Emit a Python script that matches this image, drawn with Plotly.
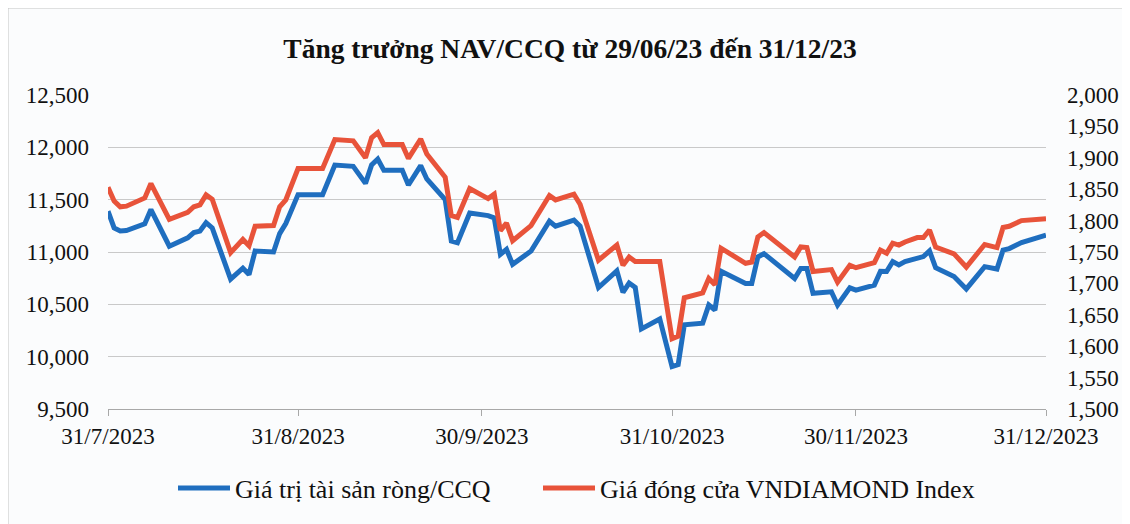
import plotly.graph_objects as go

# ---- data ----
dates = [
    "2023-07-31", "2023-08-01", "2023-08-02", "2023-08-03", "2023-08-06", "2023-08-07",
    "2023-08-10", "2023-08-13", "2023-08-14", "2023-08-15", "2023-08-16", "2023-08-17",
    "2023-08-20", "2023-08-22", "2023-08-23", "2023-08-24", "2023-08-27", "2023-08-28",
    "2023-08-29", "2023-08-31", "2023-09-04", "2023-09-06", "2023-09-09", "2023-09-11",
    "2023-09-12", "2023-09-13", "2023-09-14", "2023-09-17", "2023-09-18", "2023-09-20",
    "2023-09-21", "2023-09-24", "2023-09-25", "2023-09-26", "2023-09-28", "2023-10-01",
    "2023-10-02", "2023-10-03", "2023-10-04", "2023-10-05", "2023-10-08", "2023-10-11",
    "2023-10-12", "2023-10-15", "2023-10-16", "2023-10-19", "2023-10-22", "2023-10-23",
    "2023-10-24", "2023-10-25", "2023-10-26", "2023-10-29", "2023-10-31", "2023-11-01",
    "2023-11-02", "2023-11-05", "2023-11-06", "2023-11-07", "2023-11-08", "2023-11-12",
    "2023-11-13", "2023-11-14", "2023-11-15", "2023-11-20", "2023-11-21", "2023-11-22",
    "2023-11-23", "2023-11-26", "2023-11-27", "2023-11-29", "2023-11-30", "2023-12-03",
    "2023-12-04", "2023-12-05", "2023-12-06", "2023-12-07", "2023-12-08", "2023-12-10",
    "2023-12-11", "2023-12-12", "2023-12-13", "2023-12-16", "2023-12-18", "2023-12-21",
    "2023-12-23", "2023-12-24", "2023-12-25", "2023-12-27", "2023-12-31",
]

nav_per_unit = [
    11390, 11230, 11200, 11205, 11270, 11405,
    11055, 11135, 11185, 11200, 11280, 11230,
    10740, 10845, 10785, 11010, 11000, 11176,
    11272, 11548, 11548, 11830, 11818, 11656,
    11832, 11888, 11780, 11780, 11640, 11825,
    11698, 11500, 11104, 11088, 11373, 11348,
    11326, 10977, 11025, 10882, 11009, 11294,
    11247, 11304, 11247, 10661, 10820, 10614,
    10703, 10661, 10265, 10360, 9905, 9925,
    10304, 10320, 10494, 10446, 10815, 10700,
    10700, 10952, 10984, 10747, 10842, 10842,
    10605, 10620, 10494, 10658, 10636, 10684,
    10815, 10813, 10908, 10876, 10908, 10946,
    10956, 11010, 10850, 10765, 10647, 10860,
    10837, 11018, 11033, 11090, 11160,
]

vndiamond = [
    1853, 1831, 1822, 1823, 1836, 1859,
    1802, 1813, 1822, 1825, 1841, 1834,
    1749, 1770, 1760, 1791, 1792, 1822,
    1833, 1883, 1883, 1929, 1927, 1900,
    1932, 1940, 1921, 1921, 1899, 1930,
    1906, 1869, 1808, 1805, 1851, 1835,
    1842, 1784, 1796, 1768, 1792, 1840,
    1833, 1842, 1826, 1737, 1761, 1729,
    1742, 1735, 1735, 1735, 1612, 1616,
    1677, 1685, 1708, 1698, 1756, 1732,
    1734, 1774, 1781, 1742, 1758, 1757,
    1719, 1722, 1702, 1729, 1725, 1733,
    1753, 1748, 1764, 1761, 1766, 1773,
    1773, 1785, 1758, 1747, 1726, 1762,
    1757, 1789, 1791, 1800, 1803,
]

x_tick_dates = ["2023-07-31", "2023-08-31", "2023-09-30", "2023-10-31", "2023-11-30", "2023-12-31"]
x_tick_labels = ["31/7/2023", "31/8/2023", "30/9/2023", "31/10/2023", "30/11/2023", "31/12/2023"]

series_names = ["Giá trị tài sản ròng/CCQ", "Giá đóng cửa VNDIAMOND Index"]
title_text = "Tăng trưởng NAV/CCQ từ 29/06/23 đến 31/12/23"

BLUE = "#1F6EBF"
RED = "#E8533A"
FONT = "Liberation Serif"
BG = "#FBFCFD"

# the page body adds an 8px offset; figure margins compensate for it
W, H = 1130, 524
L, R, T, B = 100, 92, 87, 123
PW, PH = W - L - R, H - T - B

fig = go.Figure()
fig.add_trace(go.Scatter(
    x=dates, y=nav_per_unit, name=series_names[0], mode="lines",
    line=dict(color=BLUE, width=5), yaxis="y", legend="legend",
))
fig.add_trace(go.Scatter(
    x=dates, y=vndiamond, name=series_names[1], mode="lines",
    line=dict(color=RED, width=5), yaxis="y2", legend="legend2",
))

legend_common = dict(
    orientation="h",
    xanchor="left",
    y=1 - 480 / H, yref="container", yanchor="middle",
    xref="container",
    font=dict(family=FONT, size=26, color="#111111"),
    bgcolor="rgba(0,0,0,0)",
    itemwidth=52,
)

fig.update_layout(
    width=W, height=H,
    margin=dict(l=L, r=R, t=T, b=B),
    paper_bgcolor=BG,
    plot_bgcolor=BG,
    font=dict(family=FONT, size=23, color="#111111"),
    title=dict(
        text="<b>" + title_text + "</b>",
        x=562 / W, xref="container", xanchor="center",
        y=1 - 40 / H, yref="container", yanchor="middle",
        font=dict(family=FONT, size=27.5, color="#111111"),
    ),
    xaxis=dict(
        type="date",
        range=["2023-07-31", "2023-12-31"],
        tickvals=x_tick_dates, ticktext=x_tick_labels,
        showgrid=False,
        showline=True, linecolor="#A8A8A8", linewidth=1,
        ticks="outside", ticklen=6, tickcolor="#A8A8A8",
        ticklabelstandoff=0,
        zeroline=False,
    ),
    yaxis=dict(
        range=[9500, 12500], dtick=500, tick0=9500,
        tickformat=",",
        showgrid=True, gridcolor="#C9C9C9", gridwidth=1,
        zeroline=False, showline=False,
        ticks="", ticklabelstandoff=18,
    ),
    yaxis2=dict(
        range=[1500, 2000], dtick=50, tick0=1500,
        tickformat=",",
        overlaying="y", side="right",
        showgrid=False, zeroline=False, showline=False,
        ticks="", ticklabelstandoff=20,
    ),
    legend=dict(legend_common, x=(180 - 8 - 7) / W),
    legend2=dict(legend_common, x=(545 - 8 - 7) / W),
    showlegend=True,
)

# light frame around the chart
fig.add_shape(
    type="rect", xref="paper", yref="paper",
    x0=-L / PW, x1=(1116 - L) / PW, y0=-B / PH, y1=1 + T / PH,
    line=dict(color="#C4C4C4", width=1), fillcolor="rgba(0,0,0,0)", layer="below",
)

fig.write_html("out.html")
